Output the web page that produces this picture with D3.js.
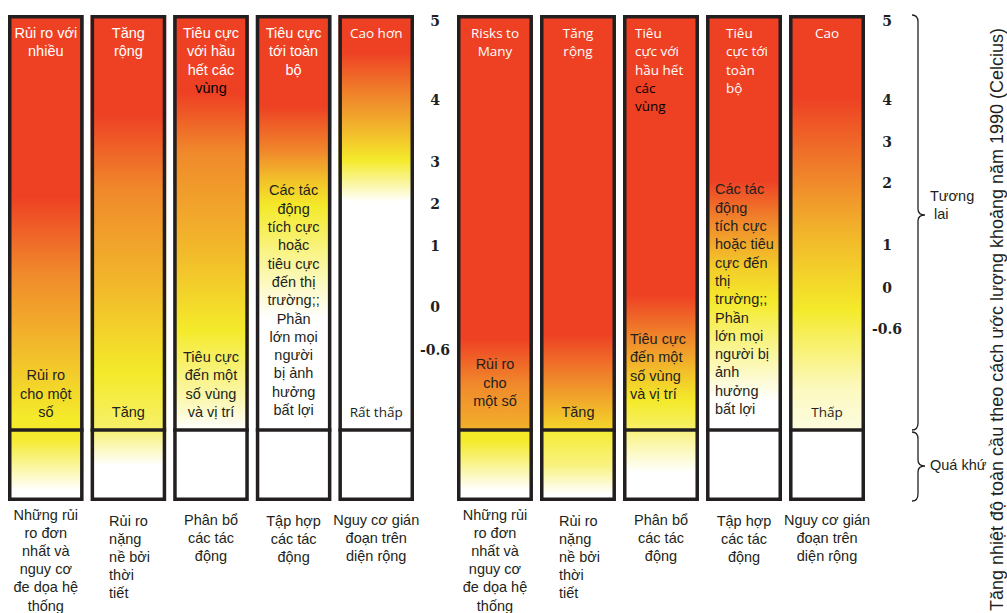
<!DOCTYPE html>
<html><head><meta charset="utf-8">
<script src="https://cdn.jsdelivr.net/npm/d3@7"></script>
<style>body{margin:0;background:#fff}svg{display:block}</style>
</head><body><svg id="c" width="1007" height="613"></svg>
<script>
// ---------- DATA ----------
const tickValues = [5, 4, 3, 2, 1, 0, -0.6];
const tickLabels = ["5", "4", "3", "2", "1", "0", "-0.6"];

// risk level stops (fraction of section height, level 0=white 1=yellow 2=orange 3=red)
const leftFuture = [
  [[0,3],[0.44,3],[0.62,2],[0.8,1.5],[0.97,1],[1,1]],
  [[0,3],[0.24,3],[0.42,2],[0.66,1.5],[0.86,1],[1,0.7]],
  [[0,3],[0.19,3],[0.33,2],[0.57,1.5],[0.76,1],[0.93,0.35],[1,0]],
  [[0,3],[0.22,3],[0.33,2],[0.4,1.4],[0.46,1],[0.59,0.5],[0.73,0],[1,0]],
  [[0,3],[0.09,3],[0.2,2],[0.28,1.5],[0.35,1],[0.45,0],[1,0]]
];
const leftPast = [
  [[0,1],[0.15,0.95],[0.85,0],[1,0]],
  [[0,0.65],[0.5,0],[1,0]],
  [[0,0],[1,0]],
  [[0,0],[1,0]],
  [[0,0],[1,0]]
];
const rightFuture = [
  [[0,3],[0.78,3],[0.89,2],[1,1.6]],
  [[0,3],[0.77,3],[0.88,2],[1,1.2]],
  [[0,3],[0.675,3],[0.78,2],[0.88,1.3],[0.93,1],[1,0.7]],
  [[0,3],[0.4,3],[0.5,2],[0.61,1.3],[0.69,1],[0.83,0.4],[0.93,0],[1,0]],
  [[0,3],[0.2,3],[0.4,2],[0.54,1.5],[0.71,1],[0.9,0.3],[1,0.15]]
];
const rightPast = [
  [[0,1],[0.15,1],[0.85,0],[1,0]],
  [[0,0.95],[0.5,0.6],[0.9,0],[1,0]],
  [[0,0.6],[0.6,0],[1,0]],
  [[0,0],[1,0]],
  [[0,0],[1,0]]
];

const leftTop = [["Rủi ro với","nhiều"],["Tăng","rộng"],["Tiêu cực","với hầu","hết các","vùng"],["Tiêu cực","tới toàn","bộ"],["Cao hơn"]];
const leftTopDark = [0,0,1,0,0];
const leftLow = [["Rủi ro","cho một","số"],["Tăng"],["Tiêu cực","đến một","số vùng","và vị trí"],
  ["Các tác","động","tích cực","hoặc","tiêu cực","đến thị","trường;;","Phần","lớn mọi","người","bị ảnh","hưởng","bất lợi"],["Rất thấp"]];

const rightTop = [["Risks to","Many"],["Tăng","rộng"],["Tiêu","cực với","hầu hết","các","vùng"],["Tiêu","cực tới","toàn","bộ"],["Cao"]];
const rightTopDark = [0,0,2,0,0];
const rightLow = [["Rủi ro","cho","một số"],["Tăng"],["Tiêu cực","đến một","số vùng","và vị trí"],
  ["Các tác","động","tích cực","hoặc tiêu","cực đến","thị","trường;;","Phần","lớn mọi","người bị","ảnh","hưởng","bất lợi"],["Thấp"]];

const bottomLabels = [["Những rủi","ro đơn","nhất và","nguy cơ","đe dọa hệ","thống"],["Rủi ro","nặng","nề bởi","thời","tiết"],
  ["Phân bổ","các tác","động"],["Tập hợp","các tác","động"],["Nguy cơ gián","đoạn trên","diện rộng"]];

const futureLabel = ["Tương", " lai"];
const pastLabel = "Quá khứ";
const axisTitle = "Tăng nhiệt độ toàn cầu theo cách ước lượng khoảng năm 1990 (Celcius)";

// ---------- DRAW ----------
const svg = d3.select("#c");
const defs = svg.append("defs");
const levelColor = d3.scaleLinear().domain([0,1,2,3]).range(["#ffffff","#f4ea2a","#f0892b","#ee4124"]);
const dark = "#231f20";
const yTop = 15, yDiv = 430, yBot = 501, bw = 3.5, lh = 18.3;
const ARIAL = "'Liberation Sans', Arial, sans-serif", OPEN = "'Open Sans', sans-serif";

const groups = [
  { key:"L", x:d3.scaleBand().domain(d3.range(5)).range([8,414]).paddingInner(0.085),
    temp:d3.scaleLinear().domain([-0.6,0,1,2,3,4,5]).range([350,307,246,204,162,100,21]), tickX:435,
    future:leftFuture, past:leftPast, top:leftTop, topDark:leftTopDark, low:leftLow,
    topFont:[ARIAL,ARIAL,ARIAL,ARIAL,OPEN], topAlign:[null,null,null,null,null], lowAlign:[null,null,null,null,null],
    lowLast:[412,412,412,410,412], botAlign:[null,18.5,null,null,null] },
  { key:"R", x:d3.scaleBand().domain(d3.range(5)).range([457,865]).paddingInner(0.085),
    temp:d3.scaleLinear().domain([-0.6,0,1,2,3,4,5]).range([329,288,245,183,142,100,21]), tickX:887,
    future:rightFuture, past:rightPast, top:rightTop, topDark:rightTopDark, low:rightLow,
    topFont:[OPEN,OPEN,OPEN,OPEN,OPEN], topAlign:[null,null,12,20,null], lowAlign:[null,null,7,9,null],
    lowLast:[401,412,394,409,412], botAlign:[null,19,null,null,null] }
];
const botFirst = [515,521,520,521,520];

function grad(id, stops){
  const g = defs.append("linearGradient").attr("id", id).attr("x1",0).attr("y1",0).attr("x2",0).attr("y2",1);
  stops.forEach(s => g.append("stop").attr("offset", s[0]).attr("stop-color", levelColor(s[1])));
  return "url(#" + id + ")";
}

function lines(g, arr, xPos, anchor, yFirst, font, size, colorFn, step){
  arr.forEach((t, i) => {
    g.append("text").attr("x", xPos).attr("y", yFirst + i*(step || lh) + 5)
      .attr("text-anchor", anchor).attr("font-family", font).attr("font-size", size)
      .attr("fill", colorFn(i)).text(t);
  });
}

groups.forEach(G => {
  const g = svg.append("g");
  d3.range(5).forEach(i => {
    const x0 = G.x(i), w = G.x.bandwidth(), cx = x0 + w/2;
    g.append("rect").attr("x", x0).attr("y", yTop).attr("width", w).attr("height", yDiv - yTop)
      .attr("fill", grad(G.key+"f"+i, G.future[i]));
    g.append("rect").attr("x", x0).attr("y", yDiv).attr("width", w).attr("height", yBot - yDiv)
      .attr("fill", grad(G.key+"p"+i, G.past[i]));
    g.append("rect").attr("x", x0 + bw/2).attr("y", yTop + bw/2).attr("width", w - bw).attr("height", yBot - yTop - bw)
      .attr("fill", "none").attr("stroke", dark).attr("stroke-width", bw);
    g.append("line").attr("x1", x0).attr("x2", x0 + w).attr("y1", yDiv).attr("y2", yDiv)
      .attr("stroke", dark).attr("stroke-width", bw);

    const top = G.top[i], nWhite = top.length - G.topDark[i];
    const ta = G.topAlign[i];
    const fsTop = G.topFont[i] === OPEN ? 13.5 : 14.5;
    lines(g, top, ta == null ? cx : x0 + ta, ta == null ? "middle" : "start", 33, G.topFont[i], fsTop,
      k => k < nWhite ? "#ffffff" : "#000000");
    const low = G.low[i], la = G.lowAlign[i];
    const lowFont = i === 4 ? OPEN : ARIAL;
    lines(g, low, la == null ? cx : x0 + la, la == null ? "middle" : "start",
      G.lowLast[i] - (low.length - 1)*lh, lowFont, lowFont === OPEN ? 13.5 : 14.5, () => dark);
    const ba = G.botAlign[i];
    lines(g, bottomLabels[i], ba == null ? cx : x0 + ba, ba == null ? "middle" : "start",
      botFirst[i], ARIAL, 14.5, () => dark, 18.1);
  });
  g.selectAll("text.tick").data(tickValues).join("text").attr("class","tick")
    .attr("x", G.tickX).attr("y", d => G.temp(d) + 5).attr("text-anchor","middle")
    .attr("font-family","'DejaVu Serif', serif").attr("font-weight","bold").attr("font-size", 14)
    .attr("fill", dark).text((d, k) => tickLabels[k]);
});

function brace(y0, y1, tip){
  const x = 918, xe = 912, xt = 925;
  return `M${xe},${y0} Q${x},${y0} ${x},${y0+7} L${x},${tip-6} Q${x},${tip} ${xt},${tip} Q${x},${tip} ${x},${tip+6} L${x},${y1-7} Q${x},${y1} ${xe},${y1}`;
}
svg.append("path").attr("d", brace(15, 430, 215)).attr("fill","none").attr("stroke", dark).attr("stroke-width", 1.3);
svg.append("path").attr("d", brace(432, 501, 466)).attr("fill","none").attr("stroke", dark).attr("stroke-width", 1.3);
futureLabel.forEach((t, i) => svg.append("text").attr("x", 930).attr("y", 201 + i*18)
  .attr("font-family", ARIAL).attr("font-size", 14.5).attr("fill", dark).style("white-space","pre").text(t));
svg.append("text").attr("x", 930).attr("y", 470).attr("font-family", ARIAL).attr("font-size", 14.5).attr("fill", dark).text(pastLabel);

svg.append("text").attr("transform", "translate(1003,611) rotate(-90)").attr("text-anchor","start")
  .attr("font-family", ARIAL).attr("font-size", 18).attr("fill", dark).text(axisTitle);
</script></body></html>
